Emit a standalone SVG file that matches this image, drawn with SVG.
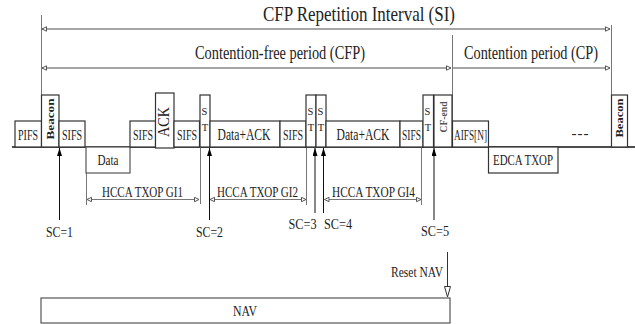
<svg xmlns="http://www.w3.org/2000/svg" width="635" height="324" viewBox="0 0 635 324">
<style>
text{font-family:"Liberation Serif","DejaVu Serif",serif;fill:#222}
.box{fill:#fff;stroke:#333;stroke-width:1.2}
.gbox{fill:#fff;stroke:#555;stroke-width:1.2}
.ln{stroke:#888;stroke-width:1.3;fill:none}
.gl{stroke:#777;stroke-width:1;fill:none}
.bl{stroke:#111;stroke-width:1;fill:none}
.sm{font-size:15px}
.st{font-size:10.5px}
.md{font-size:16px}
.lb{font-size:15px}
</style>
<defs>
<marker id="oa" markerUnits="userSpaceOnUse" markerWidth="8" markerHeight="8" refX="5" refY="3" orient="auto-start-reverse">
<path d="M0.5,0.8 L5,3 L0.5,5.2 z" fill="#fff" stroke="#555" stroke-width="1"/>
</marker>
<marker id="fa" markerUnits="userSpaceOnUse" markerWidth="8" markerHeight="10" refX="8" refY="2.5" orient="auto">
<path d="M0,0 L8,2.5 L0,5 z" fill="#000"/>
</marker>
<marker id="da" markerUnits="userSpaceOnUse" markerWidth="12" markerHeight="8" refX="11" refY="3.5" orient="auto">
<path d="M0.5,0.5 L11,3.5 L0.5,6.5 z" fill="#fff" stroke="#333" stroke-width="1"/>
</marker>
</defs>

<text x="359" y="21" font-size="22" text-anchor="middle" textLength="192" lengthAdjust="spacingAndGlyphs">CFP Repetition Interval (SI)</text>
<text x="280" y="59" font-size="18" text-anchor="middle" textLength="170" lengthAdjust="spacingAndGlyphs">Contention-free period (CFP)</text>
<text x="531" y="59" font-size="18" text-anchor="middle" textLength="134" lengthAdjust="spacingAndGlyphs">Contention period (CP)</text>

<g id="connectors">
<line class="gl" x1="41.5" y1="15" x2="41.5" y2="95"/>
<line class="gl" x1="611.5" y1="25" x2="611.5" y2="95"/>
<line class="gl" x1="452.5" y1="35" x2="452.5" y2="147"/>
<line class="ln" x1="42" y1="29" x2="610" y2="29" marker-start="url(#oa)" marker-end="url(#oa)"/>
<line class="ln" x1="42" y1="68" x2="451" y2="68" marker-start="url(#oa)" marker-end="url(#oa)"/>
<line class="ln" x1="453" y1="68" x2="610" y2="68" marker-end="url(#oa)"/>
<line x1="12" y1="147" x2="635" y2="147" stroke="#111" stroke-width="1.5"/>
<line class="gl" x1="86.5" y1="147" x2="86.5" y2="205"/>
<line class="gl" x1="200.5" y1="147" x2="200.5" y2="204"/>
<line class="gl" x1="306.5" y1="147" x2="306.5" y2="205"/>
<line class="gl" x1="421.5" y1="147" x2="421.5" y2="205"/>
<line class="bl" x1="59.5" y1="220" x2="59.5" y2="148" marker-end="url(#fa)"/>
<line class="bl" x1="209.5" y1="220" x2="209.5" y2="148" marker-end="url(#fa)"/>
<line class="bl" x1="315" y1="213" x2="315" y2="148" marker-end="url(#fa)"/>
<line class="bl" x1="323.5" y1="213" x2="323.5" y2="148" marker-end="url(#fa)"/>
<line class="bl" x1="434" y1="220" x2="434" y2="148" marker-end="url(#fa)"/>
<line class="gl" x1="87" y1="199.5" x2="199" y2="199.5" marker-start="url(#oa)" marker-end="url(#oa)"/>
<line class="gl" x1="210" y1="199.5" x2="306" y2="199.5" marker-start="url(#oa)" marker-end="url(#oa)"/>
<line class="gl" x1="324.5" y1="199.5" x2="421" y2="199.5" marker-start="url(#oa)" marker-end="url(#oa)"/>
<line x1="447.5" y1="252" x2="447.5" y2="297" stroke="#333" stroke-width="1" marker-end="url(#da)"/>
</g>

<g id="pifs"><rect class="box" x="15" y="121" width="26.5" height="26"/><text class="sm" x="28" y="140" text-anchor="middle" textLength="20" lengthAdjust="spacingAndGlyphs">PIFS</text></g>
<g id="beacon1"><rect class="box" x="41.5" y="95" width="17.5" height="52"/><text x="54" y="119" font-size="11" font-weight="bold" text-anchor="middle" transform="rotate(-90 54 119)" textLength="41" lengthAdjust="spacingAndGlyphs">Beacon</text></g>
<g id="sifs1"><rect class="box" x="59" y="121" width="26" height="26"/><text class="sm" x="72" y="140" text-anchor="middle" textLength="20" lengthAdjust="spacingAndGlyphs">SIFS</text></g>
<g id="data"><rect class="gbox" x="86" y="147" width="44" height="26"/><text x="108" y="164.5" font-size="15" text-anchor="middle" textLength="21" lengthAdjust="spacingAndGlyphs">Data</text></g>
<g id="sifs2"><rect class="box" x="130" y="121" width="25.5" height="26"/><text class="sm" x="143" y="140" text-anchor="middle" textLength="20" lengthAdjust="spacingAndGlyphs">SIFS</text></g>
<g id="ack"><rect class="box" x="155.5" y="93" width="18.5" height="55"/><text x="169" y="122" font-size="16" text-anchor="middle" transform="rotate(-90 169 122)" textLength="30" lengthAdjust="spacingAndGlyphs">ACK</text></g>
<g id="sifs3"><rect class="box" x="174" y="121" width="25.5" height="26"/><text class="sm" x="187" y="140" text-anchor="middle" textLength="20" lengthAdjust="spacingAndGlyphs">SIFS</text></g>
<g id="st1"><rect class="box" x="200" y="95" width="10" height="52"/><text class="st" x="204.5" y="114.5" text-anchor="middle">S</text><text class="st" x="205" y="131" text-anchor="middle">T</text></g>
<g id="dataack1"><rect class="box" x="210" y="121" width="70" height="26"/><text class="md" x="244" y="139.5" text-anchor="middle" textLength="53" lengthAdjust="spacingAndGlyphs">Data+ACK</text></g>
<g id="sifs4"><rect class="box" x="280" y="121" width="26" height="26"/><text class="sm" x="293" y="140" text-anchor="middle" textLength="20" lengthAdjust="spacingAndGlyphs">SIFS</text></g>
<g id="st2"><rect class="box" x="306" y="95" width="10" height="52"/><text class="st" x="310.5" y="114.5" text-anchor="middle">S</text><text class="st" x="311" y="131" text-anchor="middle">T</text></g>
<g id="st3"><rect class="box" x="316" y="95" width="10" height="52"/><text class="st" x="320.5" y="114.5" text-anchor="middle">S</text><text class="st" x="321" y="131" text-anchor="middle">T</text></g>
<g id="dataack2"><rect class="box" x="326" y="121" width="74" height="26"/><text class="md" x="363" y="139.5" text-anchor="middle" textLength="53" lengthAdjust="spacingAndGlyphs">Data+ACK</text></g>
<g id="sifs5"><rect class="box" x="400" y="121" width="23" height="26"/><text class="sm" x="411.5" y="140" text-anchor="middle" textLength="19" lengthAdjust="spacingAndGlyphs">SIFS</text></g>
<g id="st4"><rect class="box" x="423" y="95" width="10.5" height="52"/><text class="st" x="427.5" y="114.5" text-anchor="middle">S</text><text class="st" x="428" y="131" text-anchor="middle">T</text></g>
<g id="cfend"><rect class="box" x="434" y="95" width="18" height="52"/><text x="447" y="117" font-size="11" font-weight="bold" style="fill:#555" text-anchor="middle" transform="rotate(-90 447 117)" textLength="31" lengthAdjust="spacingAndGlyphs">CF-end</text></g>
<g id="aifs"><rect class="box" x="452.5" y="121" width="36" height="26"/><text class="sm" x="470.5" y="140" text-anchor="middle" textLength="33" lengthAdjust="spacingAndGlyphs">AIFS[N]</text></g>
<g id="edca"><rect class="box" x="488.5" y="147" width="69.5" height="26"/><text x="523" y="164.5" font-size="15" text-anchor="middle" textLength="60" lengthAdjust="spacingAndGlyphs">EDCA TXOP</text></g>
<g id="dots"><text x="580" y="138" font-size="15" text-anchor="middle" textLength="17" lengthAdjust="spacing">---</text></g>
<g id="beacon2"><rect class="box" x="611.5" y="95" width="16" height="52"/><text x="622.5" y="118" font-size="11" font-weight="bold" text-anchor="middle" transform="rotate(-90 622.5 118)" textLength="39" lengthAdjust="spacingAndGlyphs">Beacon</text></g>

<g id="labels">
<text class="lb" x="59.5" y="236.5" text-anchor="middle" textLength="27" lengthAdjust="spacingAndGlyphs">SC=1</text>
<text class="lb" x="209.5" y="236.5" text-anchor="middle" textLength="27" lengthAdjust="spacingAndGlyphs">SC=2</text>
<text class="lb" x="302.5" y="229" text-anchor="middle" textLength="28" lengthAdjust="spacingAndGlyphs">SC=3</text>
<text class="lb" x="338" y="229" text-anchor="middle" textLength="28" lengthAdjust="spacingAndGlyphs">SC=4</text>
<text class="lb" x="435" y="236" text-anchor="middle" textLength="28" lengthAdjust="spacingAndGlyphs">SC=5</text>
<text x="142.5" y="197" font-size="14" text-anchor="middle" textLength="81" lengthAdjust="spacingAndGlyphs">HCCA TXOP GI1</text>
<text x="257.5" y="197" font-size="14" text-anchor="middle" textLength="81" lengthAdjust="spacingAndGlyphs">HCCA TXOP GI2</text>
<text x="373.5" y="197" font-size="14" text-anchor="middle" textLength="83" lengthAdjust="spacingAndGlyphs">HCCA TXOP GI4</text>
<text class="lb" x="443" y="277" text-anchor="end" textLength="52" lengthAdjust="spacingAndGlyphs">Reset NAV</text>
</g>

<g id="nav"><rect class="gbox" x="41" y="298" width="409" height="25"/><text class="lb" x="245" y="315.5" text-anchor="middle" textLength="24" lengthAdjust="spacingAndGlyphs">NAV</text></g>
</svg>
